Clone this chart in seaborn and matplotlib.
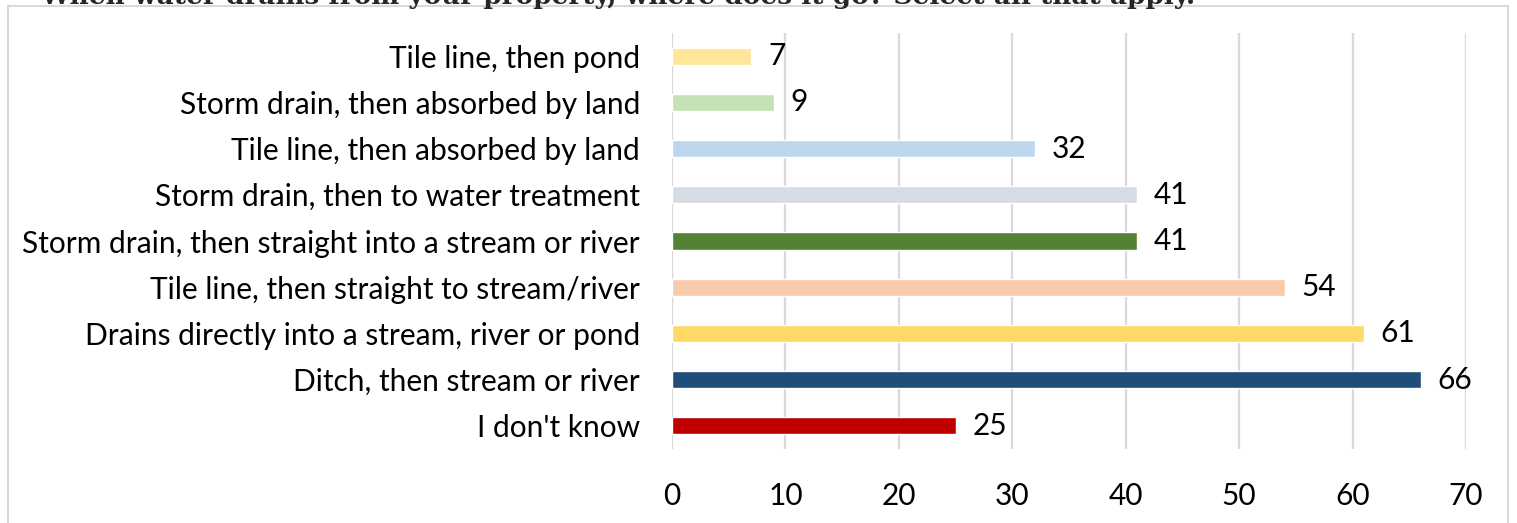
import matplotlib.pyplot as plt
import matplotlib.patches as mpatches
import pandas as pd
import seaborn as sns

categories = [
    "Tile line, then pond",
    "Storm drain, then absorbed by land",
    "Tile line, then absorbed by land",
    "Storm drain, then to water treatment",
    "Storm drain, then straight into a stream or river",
    "Tile line, then straight to stream/river",
    "Drains directly into a stream, river or pond",
    "Ditch, then stream or river",
    "I don't know",
]
counts = [7, 9, 32, 41, 41, 54, 61, 66, 25]
colors = ["#FFE699", "#C5E0B4", "#BDD7EE", "#D6DCE4", "#548235",
          "#F8CBAD", "#FFD966", "#1F4E79", "#C00000"]
title = "When water drains from your property, where does it go? Select all that apply."

df = pd.DataFrame({"category": categories, "count": counts})

sns.set_theme(style="white")
plt.rcParams["font.family"] = ["Lato", "DejaVu Sans"]

fig = plt.figure(figsize=(15.17, 5.23), dpi=100)
ax = fig.add_axes([672 / 1517, 1 - 449 / 523, (1466 - 672) / 1517, (449 - 33) / 523])

sns.barplot(data=df, y="category", x="count", hue="category", palette=colors,
            order=categories, hue_order=categories, legend=False,
            width=0.37, saturation=1, ax=ax, zorder=3)

ax.set_xlim(0, 70)
ax.set_xticks(range(0, 71, 10))
ax.set_xlabel("")
ax.set_ylabel("")
ax.grid(axis="x", color="#D9D9D9", linewidth=1.6, zorder=0)
ax.grid(axis="y", visible=False)
for s in ax.spines.values():
    s.set_visible(False)
ax.tick_params(axis="both", length=0, labelsize=21.5, colors="black")
ax.tick_params(axis="y", pad=23)
ax.tick_params(axis="x", pad=24)

for container in ax.containers:
    ax.bar_label(container, padding=12, fontsize=21.5, color="black")

# outer chart border
fig.patches.append(mpatches.Rectangle((8 / 1517, -0.05), 1500 / 1517, 1.05 - 6 / 523,
                                      transform=fig.transFigure, fill=False,
                                      edgecolor="#D9D9D9", linewidth=1.5))

# title cut off at the top edge, as in the source image
fig.text(0.407, 1 - 4 / 523, title, ha="center", va="baseline",
         fontsize=19, fontweight="bold", family=["DejaVu Serif"])

fig.savefig("out.png", dpi=100)
